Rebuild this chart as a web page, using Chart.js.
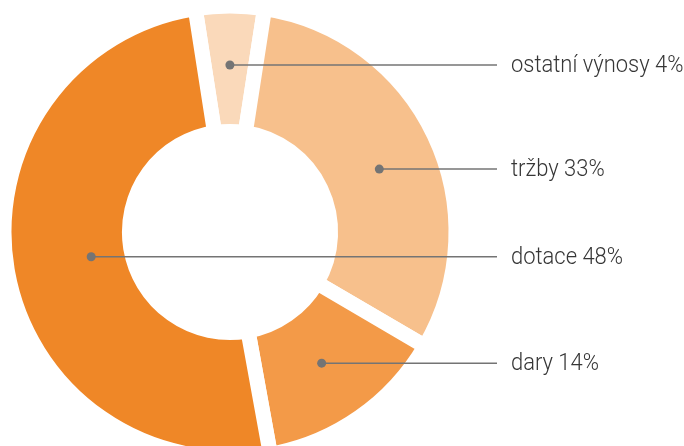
<!DOCTYPE html>
<html>
<head>
<meta charset="utf-8">
<script src="https://cdn.jsdelivr.net/npm/chart.js@4/dist/chart.umd.min.js"></script>
<style>
  html, body { margin: 0; padding: 0; background: #fff; }
  #wrap { position: relative; width: 684px; height: 446px; }
</style>
</head>
<body>
<div id="wrap"><canvas id="income"></canvas></div>
<script>
// categories clockwise from the top
const categories = ["ostatní výnosy", "tržby", "dary", "dotace"];
const sliceValues = [4.9, 31.0, 13.7, 50.4];
// the percentages printed next to each slice
const labelShares = [4, 33, 14, 48];

const colors = ["#fad9ba", "#f7c08c", "#f39a48", "#ef8727"];
// where each marker dot sits: distance from centre (px) and position along the slice (0..1)
const dotRadius = [167, 162, 160, 141];
const dotAlong = [0.5, 0.523, 0.5, 0.497];

const labelX = 511;
const lineEndX = 497;

const calloutPlugin = {
    id: "callouts",
    afterDatasetsDraw(chart) {
        const ctx = chart.ctx;
        const arcs = chart.getDatasetMeta(0).data;
        ctx.save();
        arcs.forEach((arc, i) => {
            const a = arc.startAngle + (arc.endAngle - arc.startAngle) * dotAlong[i];
            const px = arc.x + Math.cos(a) * dotRadius[i];
            const py = arc.y + Math.sin(a) * dotRadius[i];

            ctx.strokeStyle = "#747474";
            ctx.lineWidth = 1.5;
            ctx.beginPath();
            ctx.moveTo(px, py);
            ctx.lineTo(lineEndX, py);
            ctx.stroke();

            ctx.fillStyle = "#747474";
            ctx.beginPath();
            ctx.arc(px, py, 4.5, 0, Math.PI * 2);
            ctx.fill();

            // slightly condensed text, like the original
            ctx.save();
            ctx.translate(labelX, py + 1);
            ctx.scale(0.955, 1);
            ctx.fillStyle = "#363636";
            ctx.font = '300 23px Roboto, "Liberation Sans", sans-serif';
            ctx.textBaseline = "middle";
            ctx.textAlign = "left";
            ctx.fillText(`${categories[i]} ${labelShares[i]}%`, 0, 0);
            ctx.restore();
        });
        ctx.restore();
    }
};

const data = {
    labels: categories,
    datasets: [{
        data: sliceValues,
        backgroundColor: colors,
        borderColor: "#ffffff",
        borderWidth: 15,
        borderAlign: "center",
        hoverOffset: 0,
        clip: false
    }]
};

const config = {
    type: "doughnut",
    data: data,
    options: {
        responsive: true,
        maintainAspectRatio: false,
        animation: false,
        rotation: -8.85,
        radius: 226,
        cutout: "44.5%",
        layout: {
            padding: {left: 0, right: 224, top: 18, bottom: 0}
        },
        plugins: {
            legend: {display: false},
            tooltip: {enabled: false}
        },
        events: []
    },
    plugins: [calloutPlugin]
};

const incomeChart = new Chart(document.getElementById("income"), config);
</script>
</body>
</html>
